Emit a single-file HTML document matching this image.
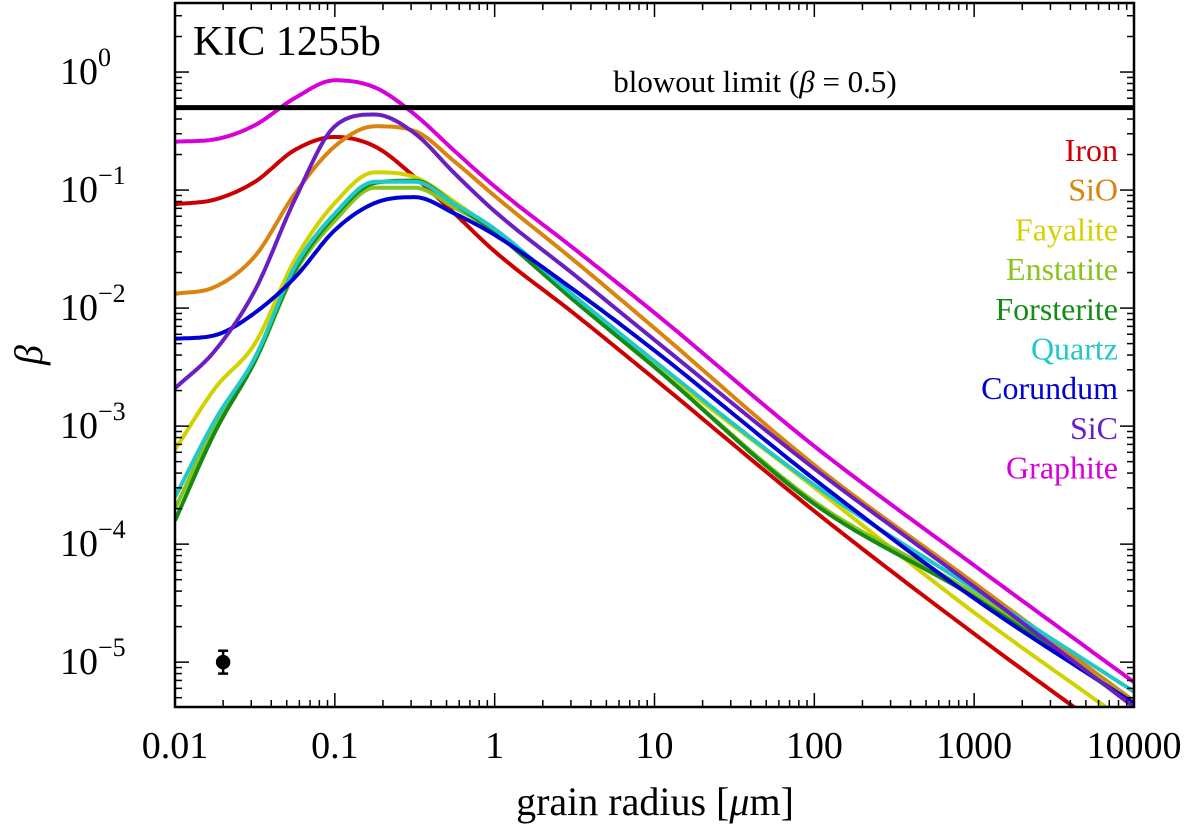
<!DOCTYPE html>
<html><head><meta charset="utf-8"><style>
html,body{margin:0;padding:0;background:#fff}
svg{display:block;font-family:"Liberation Serif","DejaVu Serif",serif}
</style></head><body>
<svg id="chart" width="1200" height="835" viewBox="0 0 1200 835" xmlns="http://www.w3.org/2000/svg"></svg>
<script>
const logX = [-2,-1.75,-1.5,-1.25,-1,-0.75,-0.5,-0.25,0,0.5,1,2,3,4];
const seriesNames = ["Iron","SiO","Fayalite","Enstatite","Forsterite","Quartz","Corundum","SiC","Graphite"];
const seriesColors = ["#cc0000","#d8840f","#d2d200","#88c41a","#158a15","#20c8c8","#0000d0","#6a1fc0","#d800d8"];
const ironVals = [-1.12,-1.08,-0.93,-0.66,-0.55,-0.63,-0.89,-1.2,-1.52,-2.05,-2.6,-3.72,-4.76,-5.75];
const sioVals = [-1.88,-1.82,-1.56,-1.03,-0.63,-0.46,-0.5,-0.76,-1.05,-1.6,-2.17,-3.33,-4.33,-5.33];
const fayaliteVals = [-3.2,-2.68,-2.3,-1.59,-1.11,-0.85,-0.89,-1.1,-1.35,-1.92,-2.48,-3.52,-4.58,-5.55];
const enstatiteVals = [-3.7,-3.0,-2.45,-1.7,-1.26,-0.98,-0.98,-1.15,-1.35,-1.94,-2.5,-3.64,-4.42,-5.35];
const forsteriteVals = [-3.8,-3.05,-2.45,-1.68,-1.22,-0.94,-0.92,-1.12,-1.36,-1.94,-2.5,-3.66,-4.45,-5.36];
const quartzVals = [-3.6,-2.95,-2.42,-1.65,-1.2,-0.93,-0.93,-1.12,-1.33,-1.9,-2.45,-3.5,-4.38,-5.25];
const corundumVals = [-2.26,-2.23,-2.04,-1.74,-1.34,-1.11,-1.06,-1.2,-1.38,-1.85,-2.36,-3.45,-4.46,-5.35];
const sicVals = [-2.68,-2.36,-1.85,-1.08,-0.46,-0.36,-0.52,-0.86,-1.18,-1.72,-2.27,-3.36,-4.36,-5.38];
const graphiteVals = [-0.59,-0.57,-0.45,-0.22,-0.07,-0.13,-0.36,-0.67,-0.97,-1.5,-2.04,-3.17,-4.18,-5.17];
const allVals = [ironVals,sioVals,fayaliteVals,enstatiteVals,forsteriteVals,quartzVals,corundumVals,sicVals,graphiteVals];
const xTickLabels = ["0.01","0.1","1","10","100","1000","10000"];
const yTickExps = ["0","−1","−2","−3","−4","−5"];
const blowout = 0.5;
const errPoint = {x:0.02, y:1e-5, lo:0.8e-5, hi:1.25e-5};

const NS="http://www.w3.org/2000/svg";
const svg=document.getElementById('chart');
const L=175,R=1134,T=3,B=707;
const xmin=-2,xmax=4,ymin=-5.38,ymax=0.585;
function sx(lx){return L+(lx-xmin)/(xmax-xmin)*(R-L);}
function sy(ly){return B-(ly-ymin)/(ymax-ymin)*(B-T);}
function mk(tag,attrs,parent){const e=document.createElementNS(NS,tag);for(const k in attrs)e.setAttribute(k,attrs[k]);(parent||svg).appendChild(e);return e;}

const defs=mk('defs',{});
const cp=mk('clipPath',{id:'clip'},defs);
mk('rect',{x:L,y:T,width:R-L,height:B-T},cp);

function monoPts(xs,ys){
  const n=xs.length,d=[],m=[];
  for(let i=0;i<n-1;i++)d.push((ys[i+1]-ys[i])/(xs[i+1]-xs[i]));
  m[0]=d[0];m[n-1]=d[n-2];
  for(let i=1;i<n-1;i++)m[i]=(d[i-1]*d[i]<=0)?0:(d[i-1]+d[i])/2;
  for(let i=0;i<n-1;i++){
    if(d[i]===0){m[i]=0;m[i+1]=0;continue;}
    const a=m[i]/d[i],b=m[i+1]/d[i],s=a*a+b*b;
    if(s>9){const t=3/Math.sqrt(s);m[i]=t*a*d[i];m[i+1]=t*b*d[i];}
  }
  const out=[];
  for(let i=0;i<n-1;i++){
    const h=xs[i+1]-xs[i];
    for(let k=0;k<20;k++){
      const t=k/20,t2=t*t,t3=t2*t;
      const y=(2*t3-3*t2+1)*ys[i]+(t3-2*t2+t)*h*m[i]+(-2*t3+3*t2)*ys[i+1]+(t3-t2)*h*m[i+1];
      out.push(sx(xs[i]+t*h).toFixed(1)+','+sy(y).toFixed(1));
    }
  }
  out.push(sx(xs[n-1]).toFixed(1)+','+sy(ys[n-1]).toFixed(1));
  return out.join(' ');
}

const curves=mk('g',{'clip-path':'url(#clip)'});


allVals.forEach((vals,i)=>{
  const pl=mk('polyline',{points:monoPts(logX,vals),fill:'none',stroke:seriesColors[i],'stroke-width':4,'stroke-linejoin':'round'},curves);
  
  
});

const bl=mk('line',{x1:L,x2:R,y1:sy(Math.log10(blowout)),y2:sy(Math.log10(blowout)),stroke:'#000','stroke-width':5});


const bt=mk('text',{x:755,y:92,'font-size':31,'text-anchor':'middle'});


bt.innerHTML='blowout limit (<tspan font-style="italic">β</tspan> = 0.5)';

const fr=mk('rect',{x:L,y:T,width:R-L,height:B-T,fill:'none',stroke:'#000','stroke-width':2.5});



const tg=mk('g',{stroke:'#000','stroke-width':1.5});


for(let d=xmin;d<xmax;d++){
  for(let m=1;m<10;m++){
    const x=sx(d+Math.log10(m)); const len=m===1?14:7;
    mk('line',{x1:x,x2:x,y1:B,y2:B-len},tg);mk('line',{x1:x,x2:x,y1:T,y2:T+len},tg);
  }
}
for(let d=-6;d<=0;d++){
  for(let m=1;m<10;m++){
    const v=d+Math.log10(m); if(v<ymin||v>ymax)continue;
    const y=sy(v); const len=m===1?14:7;
    mk('line',{x1:L,x2:L+len,y1:y,y2:y},tg);mk('line',{x1:R,x2:R-len,y1:y,y2:y},tg);
  }
}
xTickLabels.forEach((s,i)=>{
  const t=mk('text',{x:sx(xmin+i),y:758,'font-size':38,'text-anchor':'middle'});
  
  
  t.textContent=s;
});
yTickExps.forEach((e,i)=>{
  const y=sy(-i);
  const t=mk('text',{x:60,y:y+12,'font-size':38});
  
  
  t.innerHTML='10<tspan font-size="26" dy="-18">'+e+'</tspan>';
});
const xt=mk('text',{x:655,y:815,'font-size':40,'text-anchor':'middle'});


xt.innerHTML='grain radius [<tspan font-style="italic">μ</tspan>m]';
const yt=mk('text',{x:0,y:0,'font-size':40,'font-style':'italic','text-anchor':'middle',transform:'translate(42,355) rotate(-90)'});


yt.textContent='β';
const tt=mk('text',{x:193,y:55,'font-size':42});


tt.textContent='KIC 1255b';
seriesNames.forEach((n,i)=>{
  const t=mk('text',{x:1118,y:161+i*39.7,'font-size':32,'text-anchor':'end',fill:seriesColors[i]});
  
  
  t.textContent=n;
});
const eg=mk('g',{stroke:'#000','stroke-width':2.5});


const ex=sx(Math.log10(errPoint.x));
mk('line',{x1:ex,x2:ex,y1:sy(Math.log10(errPoint.lo)),y2:sy(Math.log10(errPoint.hi))},eg);
mk('line',{x1:ex-5,x2:ex+5,y1:sy(Math.log10(errPoint.lo)),y2:sy(Math.log10(errPoint.lo))},eg);
mk('line',{x1:ex-5,x2:ex+5,y1:sy(Math.log10(errPoint.hi)),y2:sy(Math.log10(errPoint.hi))},eg);
mk('circle',{cx:ex,cy:sy(Math.log10(errPoint.y)),r:6,fill:'#000'},eg);
</script>
</body></html>
